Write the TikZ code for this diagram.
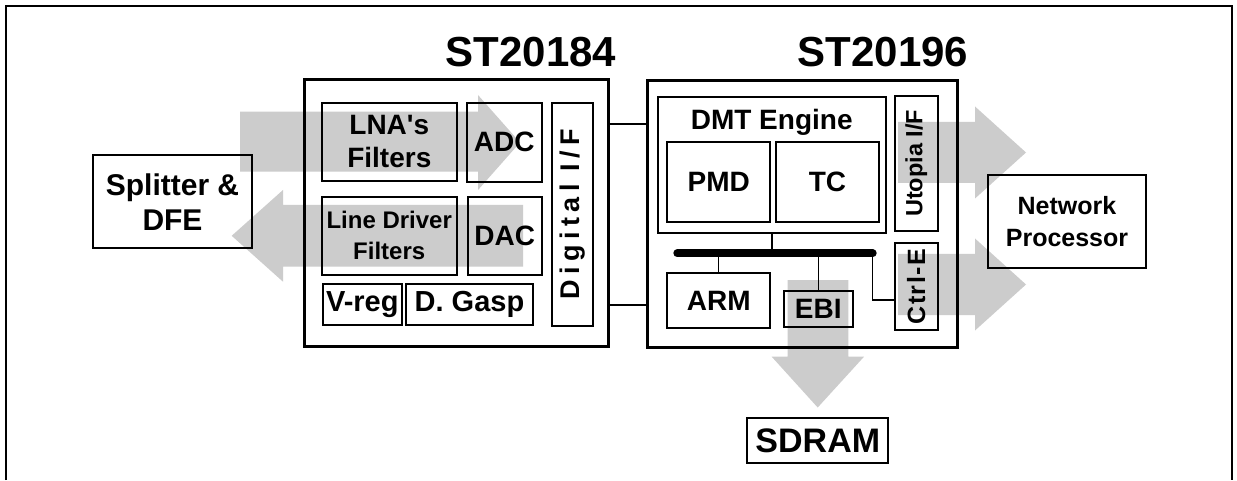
\documentclass[tikz,border=0pt]{standalone}
\usepackage{fontspec}
\setmainfont{Liberation Sans}
\usetikzlibrary{calc}

\definecolor{dsFlow}{HTML}{CCCCCC}
\definecolor{dsLine}{HTML}{000000}

\newcommand{\pxfont}[2]{\fontsize{#1}{#2}\selectfont\bfseries}

\tikzset{
  blk/.style={draw=dsLine, line width=2pt, inner sep=0pt, align=center},
  chip/.style={draw=dsLine, line width=3pt, inner sep=0pt},
  flow/.style={fill=dsFlow},
  wire/.style={draw=dsLine, line width=1.5pt},
}

\begin{document}
\begin{tikzpicture}[x=1pt, y=-1pt]
  % Canvas and frame
  \fill[white] (0,0) rectangle (1237,480);
  \draw[line width=2pt] (6,480) -- (6,6) -- (1232,6) -- (1232,480);

  % Data flow (drawn below the blocks)
  \fill[flow] (240,111.7) -- (478,111.7) -- (478,95) -- (520,142.5) -- (478,190) -- (478,171.7) -- (240,171.7) -- cycle;
  \fill[flow] (523,205) -- (283,205) -- (283,190) -- (231.7,235.8) -- (283,281.7) -- (283,266.7) -- (523,266.7) -- cycle;
  \foreach \y in {152.5, 284.5}
    \fill[flow] (898,\y-30.5) -- (975,\y-30.5) -- (975,\y-46) -- (1026,\y) -- (975,\y+46) -- (975,\y+30.5) -- (898,\y+30.5) -- cycle;
  \fill[flow] (787.7,280) -- (848.3,280) -- (848.3,356.7) -- (864,356.7) -- (817.7,407.5) -- (771.7,356.7) -- (787.7,356.7) -- cycle;

  % Titles
  \node[anchor=base, font=\pxfont{42}{50}] (t184) at (531,67) {ST20184};
  \node[anchor=base, font=\pxfont{42}{50}] (t196) at (883,67) {ST20196};

  % Outside blocks
  \node[blk, minimum width=158.4, minimum height=93.3, font=\pxfont{30}{35}] (split) at (172.5,201.7) {Splitter \&\\DFE};
  \node[blk, minimum width=157.7, minimum height=93.3, font=\pxfont{25}{32}] (netp) at (1067,221.7) {Network\\Processor};
  \node[blk, minimum width=141, minimum height=45, font=\pxfont{34}{40}] (sdram) at (817.8,440.8) {SDRAM};

  % ST20184
  \node[chip, minimum width=304.5, minimum height=266] (st184) at (456.3,213) {};
  \node[blk, minimum width=135.3, minimum height=78.3, font=\pxfont{28}{33}] (lna) at (389.3,141.9) {LNA\textquotesingle s\\Filters};
  \node[blk, minimum width=75, minimum height=79, font=\pxfont{28}{33}] (adc) at (504.2,142.2) {ADC};
  \node[blk, minimum width=135, minimum height=78.3, font=\pxfont{24}{31}] (ldf) at (389.2,235.8) {Line Driver\\Filters};
  \node[blk, minimum width=74, minimum height=78.3, font=\pxfont{28}{33}] (dac) at (504.7,235.8) {DAC};
  \node[blk, minimum width=78.7, minimum height=41, font=\pxfont{29}{34}] (vreg) at (362.3,304.5) {V-reg};
  \node[blk, minimum width=127.6, minimum height=41, font=\pxfont{29}{34}] (gasp) at (469.5,304.5) {D. Gasp};
  \node[blk, rotate=90, minimum width=223.3, minimum height=41.6, font=\pxfont{27}{32}\addfontfeature{LetterSpace=20}] (dif) at (572.5,214.3) {Digital I/F};

  % ST20196
  \node[chip, minimum width=310, minimum height=266] (st196) at (802,214) {};
  \node[blk, minimum width=227.4, minimum height=136] (dmt) at (772,165.3) {};
  \node[anchor=base, font=\pxfont{28}{33}] (dmtlbl) at (771.7,130) {DMT Engine};
  \node[blk, minimum width=102.7, minimum height=80, font=\pxfont{28}{33}] (pmd) at (718.7,181.7) {PMD};
  \node[blk, minimum width=103, minimum height=80, font=\pxfont{28}{33}] (tc) at (827.5,181.7) {TC};
  \node[blk, rotate=90, minimum width=135.3, minimum height=42.7, font=\pxfont{23.5}{28}] (utopia) at (916.3,163.3) {Utopia I/F};
  \node[blk, rotate=90, minimum width=86.7, minimum height=42.7, font=\pxfont{25}{30}\addfontfeature{LetterSpace=6}] (ctrle) at (916.3,286.7) {Ctrl-E};
  \node[blk, minimum width=102.7, minimum height=54.4, font=\pxfont{28}{33}] (arm) at (718.7,300.5) {ARM};
  \node[blk, minimum width=68.7, minimum height=36.6, font=\pxfont{28}{33}] (ebi) at (818.3,309) {EBI};

  % Internal bus
  \coordinate (busL) at (677.3,253.3);
  \coordinate (busR) at (872.7,253.3);
  \draw[line width=8pt, line cap=round] (busL) -- (busR);
  \draw[wire] (dmt.south) -- (dmt.south |- busL);
  \draw[wire] (arm.north) -- (arm.north |- busL);
  \draw[wire] (ebi.north) -- (ebi.north |- busL);
  \draw[wire] (busR) |- ([yshift=-13.3pt]ctrle.north);

  % Chip to chip
  \coordinate (ifA) at ($(st184.east)+(0,-89)$);
  \coordinate (ifB) at ($(st184.east)+(0,92)$);
  \draw[wire] (ifA) -- (ifA -| st196.west);
  \draw[wire] (ifB) -- (ifB -| st196.west);
\end{tikzpicture}
\end{document}
